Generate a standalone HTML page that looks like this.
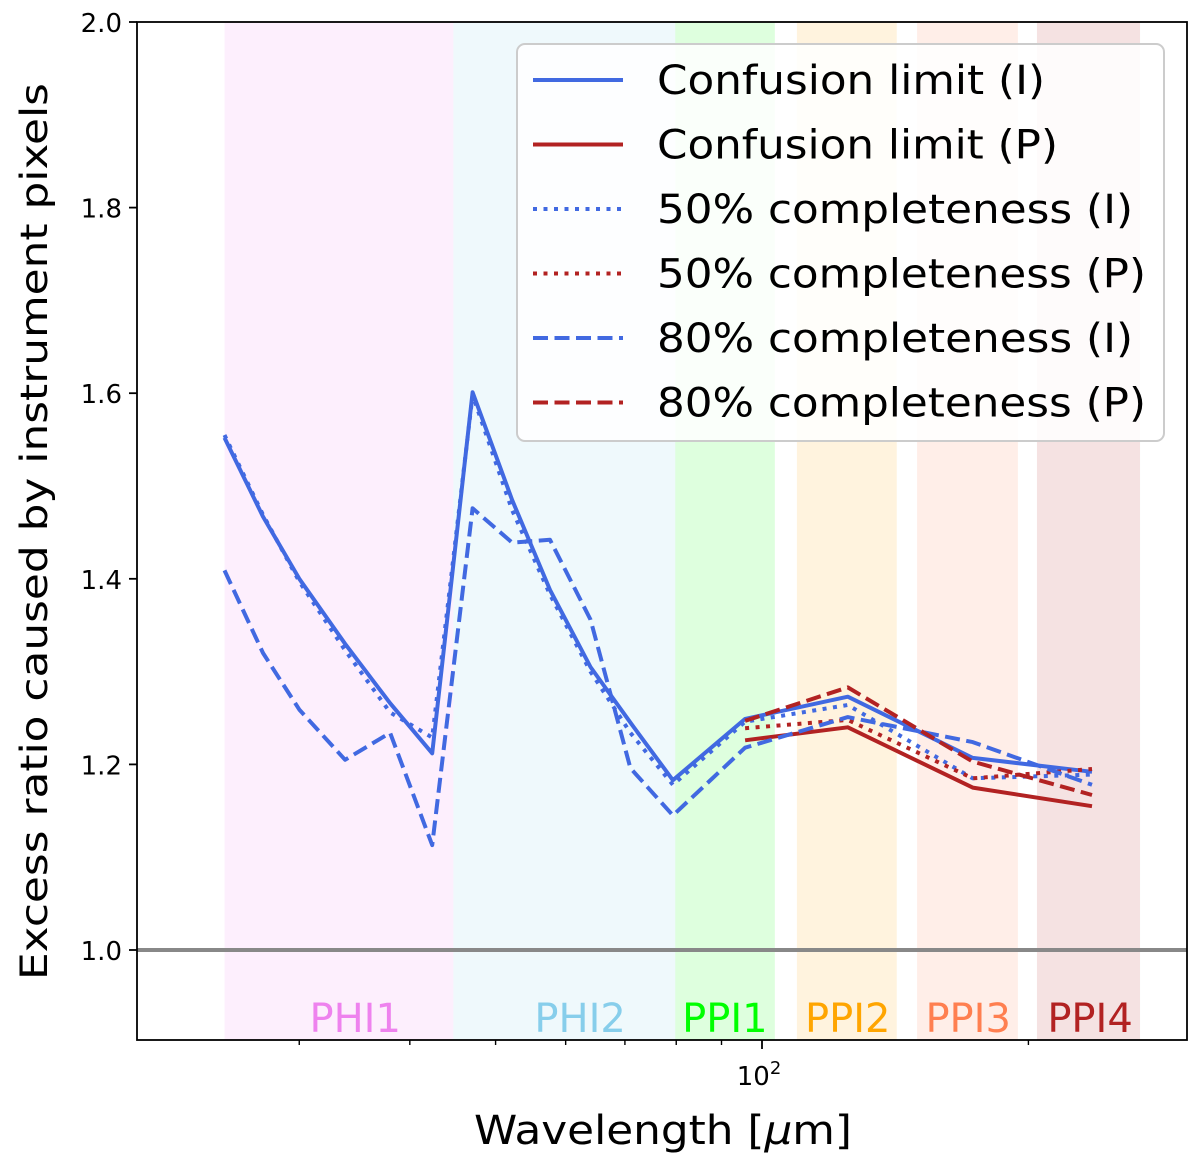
<!DOCTYPE html>
<html><head><meta charset="utf-8">
<style>
body{margin:0;background:#fff;}
svg{display:block;font-family:"DejaVu Sans","Liberation Sans",sans-serif;}
</style></head>
<body>
<svg id="chart" width="1200" height="1168" viewBox="0 0 1200 1168" xmlns="http://www.w3.org/2000/svg">
<g id="bands"></g>
<g id="series"></g>
<g id="axes"></g>
<g id="legend"></g>
</svg>
<script>
const wavelengths = [24.7,27.3,30,33.8,38,42.4,47.1,52.2,57.6,64,71,79.3,95.7,125,173,236];
const confI = [1.552,1.467,1.40,1.33,1.266,1.212,1.601,1.485,1.388,1.305,1.245,1.183,1.249,1.273,1.207,1.192];
const compl50I = [1.555,1.469,1.397,1.323,1.256,1.229,1.598,1.474,1.383,1.300,1.234,1.178,1.246,1.264,1.185,1.189];
const compl80I = [1.409,1.320,1.259,1.205,1.234,1.113,1.476,1.439,1.442,1.356,1.196,1.145,1.218,1.251,1.224,1.178];
const pWavelengths = [95.7,125,173,236];
const confP = [1.226,1.240,1.175,1.155];
const compl50P = [1.239,1.248,1.185,1.195];
const compl80P = [1.247,1.283,1.203,1.167];
const bandNames = ["PHI1","PHI2","PPI1","PPI2","PPI3","PPI4"];
const bandStart = [24.7,44.8,79.8,109.5,149.7,204.5];
const bandEnd = [44.8,79.8,103.4,142,194.6,267.4];
const bandLabelAt = [34.7,62.3,90.8,125,171,234.8];
const bandColors = ["violet","skyblue","lime","orange","coral","firebrick"];
const yTicks = [1.0,1.2,1.4,1.6,1.8,2.0];
const xMinorTicks = [30,40,50,60,70,80,90,200];

const NS="http://www.w3.org/2000/svg";
const L=137,R=1187,T=22,B=1040;
const X0=762,DEC=885;
function xs(w){return X0+(Math.log10(w)-2)*DEC;}
function ys(v){return 950-(v-1)*928;}
function mk(tag,attrs,parent){const e=document.createElementNS(NS,tag);for(const k in attrs)e.setAttribute(k,attrs[k]);parent.appendChild(e);return e;}
const bands=document.getElementById('bands'),series=document.getElementById('series'),axes=document.getElementById('axes'),legend=document.getElementById('legend');

bandNames.forEach((n,i)=>{
  const x1=xs(bandStart[i]),x2=xs(bandEnd[i]);
  const r=mk('rect',{x:x1,y:T,width:x2-x1,height:B-T,fill:bandColors[i],'fill-opacity':0.13},bands);
  
  
  const t=mk('text',{x:xs(bandLabelAt[i]),y:1032,'text-anchor':'middle','font-size':40,fill:bandColors[i]},bands);
  t.textContent=n;
  
  
});

const ref=mk('line',{x1:L,x2:R,y1:ys(1),y2:ys(1),stroke:'#888',"stroke-width":4},series);



const BLUE='#4169e1',RED='#b22222';
const DASH='15,6.5',DOT='4,6.5';
const defs=[
 {name:'Confusion limit (I)',x:wavelengths,y:confI,c:BLUE,d:null,id:'confusion-limit-i',len:388},
 {name:'Confusion limit (P)',x:pWavelengths,y:confP,c:RED,d:null,id:'confusion-limit-p',len:401},
 {name:'50% completeness (I)',x:wavelengths,y:compl50I,c:BLUE,d:DOT,id:'completeness-50-i',len:476},
 {name:'50% completeness (P)',x:pWavelengths,y:compl50P,c:RED,d:DOT,id:'completeness-50-p',len:489},
 {name:'80% completeness (I)',x:wavelengths,y:compl80I,c:BLUE,d:DASH,id:'completeness-80-i',len:476},
 {name:'80% completeness (P)',x:pWavelengths,y:compl80P,c:RED,d:DASH,id:'completeness-80-p',len:489}
];
defs.forEach(s=>{
  const pts=s.x.map((w,i)=>xs(w).toFixed(1)+','+ys(s.y[i]).toFixed(1)).join(' ');
  const a={points:pts,fill:'none',stroke:s.c,'stroke-width':4,'stroke-linejoin':'round'};
  if(s.d)a['stroke-dasharray']=s.d;
  const p=mk('polyline',a,series);
  
  
});

const fr=mk('rect',{x:L,y:T,width:R-L,height:B-T,fill:'none',stroke:'#000','stroke-width':1.8},axes);


yTicks.forEach(v=>{
  mk('line',{x1:L-8,x2:L,y1:ys(v),y2:ys(v),stroke:'#000','stroke-width':1.8},axes);
  const t=mk('text',{x:L-15,y:ys(v)+10,'text-anchor':'end','font-size':26},axes);
  t.textContent=v.toFixed(1);
  
  
});
xMinorTicks.forEach(w=>{mk('line',{x1:xs(w),x2:xs(w),y1:B,y2:B+5,stroke:'#000','stroke-width':1.4},axes);});
mk('line',{x1:xs(100),x2:xs(100),y1:B,y2:B+9,stroke:'#000','stroke-width':1.8},axes);
const xt=mk('text',{x:xs(100)-3,y:1085,'text-anchor':'middle','font-size':26},axes);
xt.innerHTML='10<tspan dy="-11" font-size="18">2</tspan>';


const xl=mk('text',{x:474,y:1144,'font-size':40,textLength:378,lengthAdjust:'spacingAndGlyphs'},axes);
xl.innerHTML='Wavelength [<tspan font-style="italic">μ</tspan>m]';


const yl=mk('text',{x:47,y:980,'font-size':37,textLength:897,lengthAdjust:'spacingAndGlyphs',transform:'rotate(-90 47 980)'},axes);
yl.textContent='Excess ratio caused by instrument pixels';



const lb=mk('rect',{x:517,y:44,width:647,height:397,rx:8,fill:'#fff','fill-opacity':0.85,stroke:'#ccc','stroke-width':2},legend);


defs.forEach((s,i)=>{
  const y=80+i*64.5;
  const g=mk('g',{},legend);
  
  
  const a={x1:533,x2:623,y1:y,y2:y,stroke:s.c,'stroke-width':4};
  if(s.d)a['stroke-dasharray']=s.d;
  mk('line',a,g);
  const t=mk('text',{x:657,y:y+14,'font-size':40,textLength:s.len,lengthAdjust:'spacingAndGlyphs'},g);
  t.textContent=s.name;
});
</script>
</body></html>
